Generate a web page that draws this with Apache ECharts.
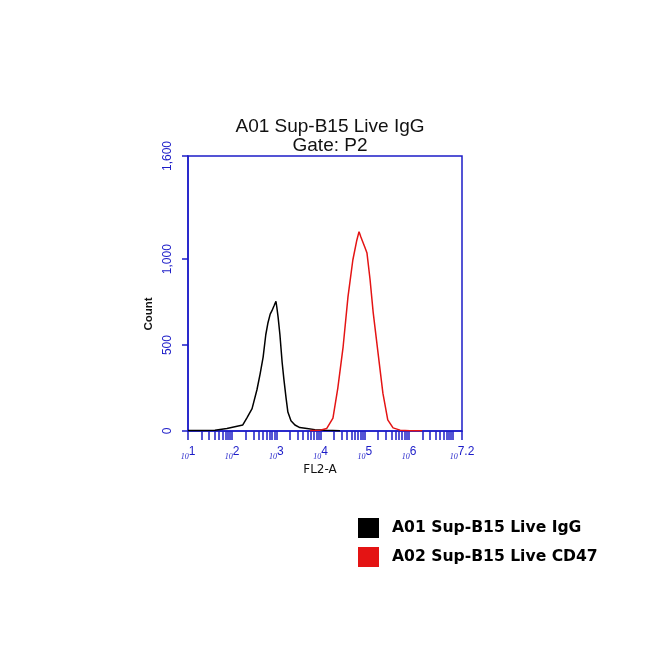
<!DOCTYPE html>
<html><head><meta charset="utf-8">
<script src="https://cdn.jsdelivr.net/npm/echarts@6/dist/echarts.min.js"></script>
<style>html,body{margin:0;padding:0;background:#fff}#c{width:650px;height:650px}</style>
</head><body><div id="c"></div>
<script>
// FL2-A on log10 scale (exponent), counts
const igLogX = [1.0, 1.27, 1.61, 1.88, 2.06, 2.24, 2.33, 2.45, 2.56, 2.63, 2.70, 2.76, 2.81, 2.86, 2.90, 2.95, 2.99, 3.01, 3.04, 3.08, 3.13, 3.17, 3.22, 3.26, 3.33, 3.42, 3.53, 3.69, 3.87, 4.10, 4.44];
const igCount = [3, 3, 4, 15, 25, 35, 75, 130, 240, 330, 430, 560, 630, 680, 700, 730, 755, 720, 660, 560, 400, 300, 190, 110, 60, 35, 20, 15, 8, 4, 2];
const cdLogX = [3.76, 3.99, 4.14, 4.28, 4.39, 4.51, 4.62, 4.73, 4.82, 4.87, 4.91, 4.94, 5.00, 5.05, 5.12, 5.19, 5.30, 5.41, 5.52, 5.64, 5.80, 6.02, 6.3];
const cdCount = [3, 5, 15, 75, 250, 490, 780, 995, 1110, 1160, 1130, 1110, 1070, 1035, 880, 690, 455, 220, 65, 18, 5, 2, 1];
const seriesNames = ['A01 Sup-B15 Live IgG', 'A02 Sup-B15 Live CD47'];
const xLabelExps = [1, 2, 3, 4, 5, 6, 7.2];
const yLabelVals = [0, 500, 1000, 1600];

const blue = '#1c1cc8';
const xMin = 1, xMax = 7.2;
const xTicks = [];
for (let d = 1; d <= 7; d++) for (let k = 1; k <= 9; k++) {
  const v = d + Math.log10(k);
  if (v <= xMax + 1e-9) xTicks.push(v);
}
xTicks.push(xMax);

const chart = echarts.init(document.getElementById('c'));
chart.setOption({
  backgroundColor: '#fff',
  animation: false,
  title: {
    text: 'A01 Sup-B15 Live IgG\nGate: P2',
    left: 325, top: 112, textAlign: 'center',
    textStyle: {fontFamily: 'Liberation Sans', fontSize: 19, fontWeight: 'normal', color: '#111', lineHeight: 19.5}
  },
  legend: {
    orient: 'vertical', left: 358, top: 518, padding: 0, itemWidth: 21, itemHeight: 20, itemGap: 9,
    icon: 'rect',
    textStyle: {fontFamily: 'DejaVu Sans', fontSize: 15.6, fontWeight: 'bold', color: '#000', padding: [0,0,0,8]},
    data: seriesNames
  },
  grid: {left: 188, right: 188, top: 156, bottom: 219, show: true, borderColor: blue, borderWidth: 1.5, backgroundColor: 'transparent'},
  xAxis: {
    type: 'value', min: xMin, max: xMax,
    axisLine: {lineStyle: {color: blue, width: 1.5}},
    splitLine: {show: false},
    axisTick: {show: true, length: 9, customValues: xTicks, lineStyle: {color: blue, width: 1.5}},
    axisLabel: {
      customValues: xLabelExps, margin: 15, color: blue,
      formatter: v => '{a|10}{b|' + (Math.round(v*10)/10) + '}',
      rich: {
        a: {fontFamily: 'Liberation Serif', fontStyle: 'italic', fontSize: 8, color: blue, verticalAlign: 'bottom', padding: [7,0,0,0]},
        b: {fontFamily: 'Liberation Sans', fontSize: 12, color: blue, verticalAlign: 'top'}
      }
    },
    name: 'FL2-A', nameLocation: 'middle', nameGap: 33,
    nameTextStyle: {fontFamily: 'DejaVu Sans', fontSize: 12, color: '#111', padding: [0, 10, 0, 0]}
  },
  yAxis: {
    type: 'value', min: 0, max: 1600,
    axisLine: {show: true, lineStyle: {color: blue, width: 1.5}},
    splitLine: {show: false},
    axisTick: {show: true, length: 6, customValues: yLabelVals, lineStyle: {color: blue, width: 1.5}},
    axisLabel: {
      customValues: yLabelVals, rotate: 90, margin: 14, color: blue,
      fontFamily: 'Liberation Sans', fontSize: 12,
      formatter: v => v.toLocaleString('en-US')
    }
  },
  graphic: [{
    type: 'text', x: 149, y: 314, rotation: Math.PI/2,
    style: {text: 'Count', fontFamily: 'Liberation Sans', fontSize: 11.5, fontWeight: 'bold', fill: '#111', textAlign: 'center', textVerticalAlign: 'middle'}
  }],
  series: [
    {name: seriesNames[0], type: 'line', showSymbol: false, data: igLogX.map((x, i) => [x, igCount[i]]),
     lineStyle: {color: '#000', width: 1.5}, itemStyle: {color: '#000'}},
    {name: seriesNames[1], type: 'line', showSymbol: false, data: cdLogX.map((x, i) => [x, cdCount[i]]),
     lineStyle: {color: '#e41414', width: 1.5}, itemStyle: {color: '#e41414'}}
  ]
});
</script></body></html>
